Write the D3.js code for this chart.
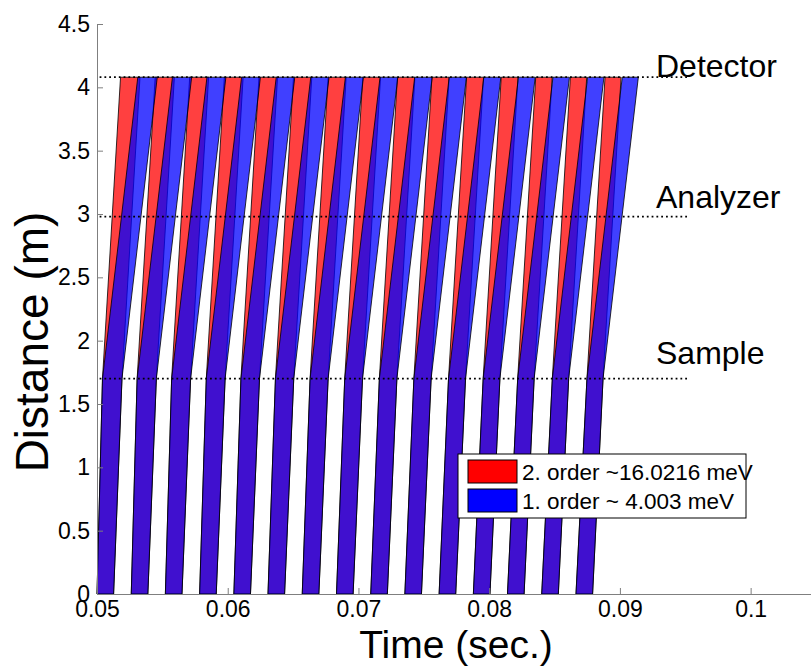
<!DOCTYPE html>
<html>
<head>
<meta charset="utf-8">
<script src="https://cdn.jsdelivr.net/npm/d3@7"></script>
<style>
  body { margin: 0; background: #fff; }
  svg { display: block; font-family: "Liberation Sans", Arial, sans-serif; }
  .axis path, .axis line { stroke: #7f7f7f; }
  .axis text { fill: #000; font-size: 23px; font-family: "Liberation Sans", Arial, sans-serif; }
</style>
</head>
<body>
<svg id="chart" width="811" height="666"></svg>
<script>
// chopper openings (s) at distance 0, and arrival window at the sample
const chopperOpen  = [0.05000, 0.05262, 0.05523, 0.05785, 0.06047, 0.06308, 0.06570, 0.06832, 0.07094, 0.07355, 0.07617, 0.07879, 0.08140, 0.08402, 0.08664];
const chopperClose = [0.05127, 0.05389, 0.05650, 0.05912, 0.06174, 0.06435, 0.06697, 0.06959, 0.07221, 0.07482, 0.07744, 0.08006, 0.08267, 0.08529, 0.08791];
const sampleEarly  = [0.05042, 0.05307, 0.05571, 0.05836, 0.06101, 0.06365, 0.06630, 0.06895, 0.07160, 0.07424, 0.07689, 0.07954, 0.08218, 0.08483, 0.08748];
const sampleLate   = [0.05191, 0.05454, 0.05716, 0.05980, 0.06243, 0.06505, 0.06768, 0.07031, 0.07294, 0.07556, 0.07819, 0.08082, 0.08344, 0.08608, 0.08871];

// sample -> detector flight time for each order (s)
const orders = [
    { name: '2. order ~16.0216 meV', flight: 0.00138, fill: '#ff0000' },
    { name: '1. order ~ 4.003 meV',  flight: 0.00270, fill: '#0000ff' }
];

// positions along the beam (m)
const stations = [
    { name: 'Sample',   dist: 1.70 },
    { name: 'Analyzer', dist: 2.98 },
    { name: 'Detector', dist: 4.08 }
];
const stationLineEnd = 0.0953;

const xTicks = [0.05, 0.06, 0.07, 0.08, 0.09, 0.1];
const xTickLabels = ['0.05', '0.06', '0.07', '0.08', '0.09', '0.1'];
const yTicks = [0, 0.5, 1, 1.5, 2, 2.5, 3, 3.5, 4, 4.5];
const yTickLabels = ['0', '0.5', '1', '1.5', '2', '2.5', '3', '3.5', '4', '4.5'];

const svg = d3.select('#chart');
const x = d3.scaleLinear().domain([0.05, 0.105]).range([97, 816]);
const y = d3.scaleLinear().domain([0, 4.5]).range([594, 24]);

const sampleDist = stations[0].dist;
const detectorDist = stations[2].dist;

function bandPoints(i, order) {
    return [
        [chopperOpen[i], 0],
        [chopperClose[i], 0],
        [sampleLate[i], sampleDist],
        [sampleLate[i] + order.flight, detectorDist],
        [sampleEarly[i] + order.flight, detectorDist],
        [sampleEarly[i], sampleDist]
    ].map(p => [x(p[0]), y(p[1])].join(',')).join(' ');
}

// neutron bands, red first so the blue overlap turns purple
const bands = svg.append('g').attr('class', 'bands');
orders.forEach(order => {
    bands.append('g')
        .selectAll('polygon')
        .data(chopperOpen)
        .join('polygon')
        .attr('points', (d, i) => bandPoints(i, order))
        .attr('fill', order.fill)
        .attr('fill-opacity', 0.75)
        .attr('stroke', '#000')
        .attr('stroke-width', 0.8)
        .attr('stroke-linejoin', 'round');
});

// dotted station lines + labels
svg.append('g').selectAll('line')
    .data(stations)
    .join('line')
    .attr('x1', x(0.0502))
    .attr('x2', x(stationLineEnd))
    .attr('y1', d => y(d.dist))
    .attr('y2', d => y(d.dist))
    .attr('stroke', '#000')
    .attr('stroke-width', 1.8)
    .attr('stroke-dasharray', '1.8,3');

const labelOffset = { Sample: 15, Analyzer: 9, Detector: 0 }; // px above line
svg.append('g').selectAll('text')
    .data(stations)
    .join('text')
    .attr('x', 656)
    .attr('y', d => y(d.dist) - labelOffset[d.name])
    .attr('font-size', 32)
    .text(d => d.name);

// axes
const xAxis = d3.axisBottom(x)
    .tickValues(xTicks)
    .tickFormat((d, i) => xTickLabels[i])
    .tickSizeInner(-6)
    .tickSizeOuter(0)
    .tickPadding(7);
const yAxis = d3.axisLeft(y)
    .tickValues(yTicks)
    .tickFormat((d, i) => yTickLabels[i])
    .tickSizeInner(-6)
    .tickSizeOuter(0)
    .tickPadding(7);

svg.append('g').attr('class', 'axis').attr('transform', 'translate(0,594)').call(xAxis);
svg.append('g').attr('class', 'axis').attr('transform', 'translate(97,0)').call(yAxis);

svg.append('text')
    .attr('x', 456)
    .attr('y', 658)
    .attr('text-anchor', 'middle')
    .attr('font-size', 39)
    .text('Time (sec.)');
svg.append('text')
    .attr('transform', 'translate(48,342) rotate(-90)')
    .attr('text-anchor', 'middle')
    .attr('font-size', 46)
    .text('Distance (m)');

// legend
const legend = svg.append('g').attr('transform', 'translate(458,454)');
legend.append('rect')
    .attr('width', 288)
    .attr('height', 64)
    .attr('fill', '#fff')
    .attr('stroke', '#000')
    .attr('stroke-width', 1);
const rows = legend.selectAll('g.row')
    .data(orders)
    .join('g')
    .attr('class', 'row')
    .attr('transform', (d, i) => `translate(10,${6 + i * 29})`);
rows.append('rect')
    .attr('width', 49)
    .attr('height', 23)
    .attr('fill', d => d.fill)
    .attr('stroke', '#000')
    .attr('stroke-width', 1);
rows.append('text')
    .attr('x', 54)
    .attr('y', 20)
    .attr('font-size', 22.5)
    .text(d => d.name);
</script>
</body>
</html>
